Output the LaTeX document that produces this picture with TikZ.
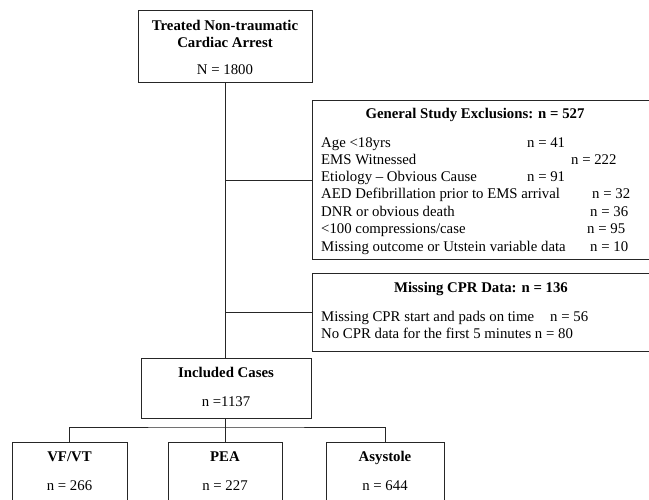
\documentclass[tikz,border=0pt]{standalone}
\usepackage{fontspec}
\setmainfont{Liberation Serif}
\begin{document}
\begin{tikzpicture}[x=1pt,y=-1pt,
  box/.style={draw=black!85, line width=0.9pt, inner sep=0pt, minimum width=#1},
  txt/.style={inner sep=0pt, text height=10pt, text depth=3pt, yshift=-1.5pt, font=\fontsize{14.8}{17}\selectfont},
  lbl/.style={txt, anchor=west},
  ttl/.style={txt, anchor=center, font=\fontsize{14.8}{17}\selectfont\bfseries},
  num/.style={txt, anchor=center},
  link/.style={draw=black!85, line width=0.9pt}
]
\useasboundingbox (0,0) rectangle (649,499);
\clip (0,0) rectangle (649,499);
% top box
\node[box=174, minimum height=72, anchor=north] (top) at (225,10) {};
\node[ttl] (t1) at (225,25) {Treated Non-traumatic};
\node[ttl] (t2) at (225,42) {Cardiac Arrest};
\node[num] (t3) at (225,69) {N = 1800};
% exclusions box
\node[box=360, minimum height=159, anchor=north west] (excl) at (312,100) {};
\node[ttl] (eh) at (475,113) {General Study Exclusions: n = 527};
\node[lbl] (e1) at (321,142) {Age <18yrs};
\node[lbl] (n1) at (527,142) {n = 41};
\node[lbl] (e2) at (321,159) {EMS Witnessed};
\node[lbl] (n2) at (571,159) {n = 222};
\node[lbl] (e3) at (321,176) {Etiology – Obvious Cause};
\node[lbl] (n3) at (527,176) {n = 91};
\node[lbl] (e4) at (321,193) {AED Defibrillation prior to EMS arrival};
\node[lbl] (n4) at (592,193) {n = 32};
\node[lbl] (e5) at (321,211) {DNR or obvious death};
\node[lbl] (n5) at (590,211) {n = 36};
\node[lbl] (e6) at (321,228) {<100 compressions/case};
\node[lbl] (n6) at (587,228) {n = 95};
\node[lbl] (e7) at (321,246) {Missing outcome or Utstein variable data};
\node[lbl] (n7) at (590,246) {n = 10};
% missing CPR box
\node[box=360, minimum height=78, anchor=north west] (miss) at (312,273) {};
\node[ttl] (mh) at (481,287) {Missing CPR Data: n = 136};
\node[lbl] (m1) at (321,316) {Missing CPR start and pads on time};
\node[lbl] (mn1) at (550,316) {n = 56};
\node[lbl] (m2) at (321,333) {No CPR data for the first 5 minutes n = 80};
% included
\node[box=170, minimum height=60, anchor=north] (inc) at (226,358) {};
\node[ttl] (i1) at (226,372) {Included Cases};
\node[num] (i2) at (226,401) {n =1137};
% bottom boxes
\node[box=115, minimum height=80, anchor=north] (vf) at (69.5,442) {};
\node[ttl] (vf1) at (69.5,456) {VF/VT};
\node[num] (vf2) at (69.5,485) {n = 266};
\node[box=114, minimum height=80, anchor=north] (pea) at (225,442) {};
\node[ttl] (pea1) at (225,456) {PEA};
\node[num] (pea2) at (225,485) {n = 227};
\node[box=118, minimum height=80, anchor=north] (asy) at (385,442) {};
\node[ttl] (asy1) at (385,456) {Asystole};
\node[num] (asy2) at (385,485) {n = 644};
% connectors
\coordinate (bar) at (225,427);
\draw[link] (top.south) -- (top.south |- inc.north);
\draw[link] (excl.west) -- (excl.west -| top.south);
\draw[link] (miss.west) -- (miss.west -| top.south);
\draw[link] (inc.south -| bar) -- (pea.north);
\draw[link] (vf.north) |- (bar) -| (asy.north);
\end{tikzpicture}
\end{document}
